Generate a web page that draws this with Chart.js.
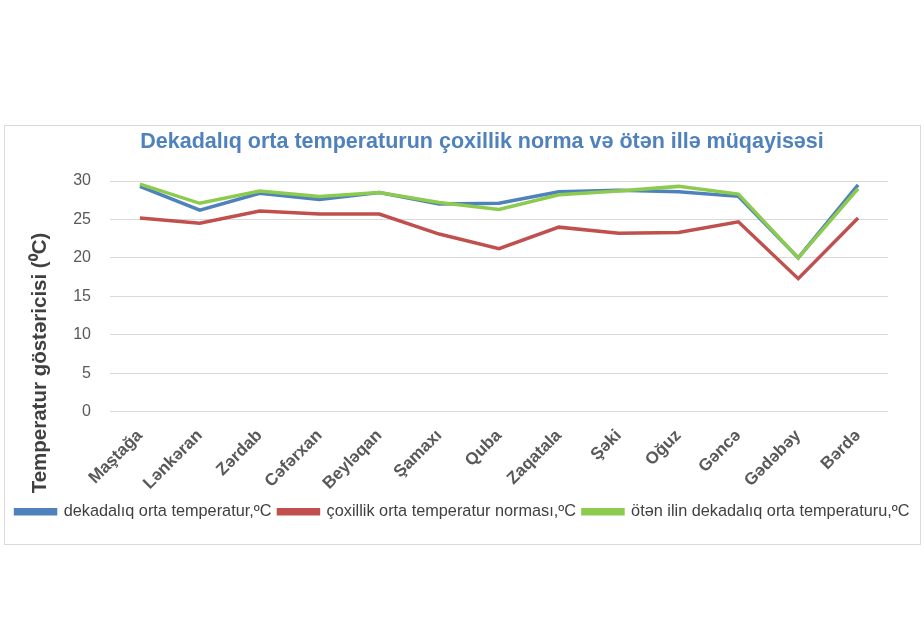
<!DOCTYPE html>
<html>
<head>
<meta charset="utf-8">
<script src="https://cdn.jsdelivr.net/npm/chart.js@4"></script>
<style>
  body { margin: 0; background: #fff; }
  #box {
    position: absolute; left: 4px; top: 125px;
    width: 917px; height: 420px;
    border: 1px solid #d9d9d9; box-sizing: border-box;
  }
</style>
</head>
<body>
<div id="box"><canvas id="chart"></canvas></div>
<script>
const stations = ['Maştağa', 'Lənkəran', 'Zərdab', 'Cəfərxan', 'Beyləqan', 'Şamaxı', 'Quba',
  'Zaqatala', 'Şəki', 'Oğuz', 'Gəncə', 'Gədəbəy', 'Bərdə'];
const decadeTemp = [29.3, 26.2, 28.4, 27.6, 28.5, 27.0, 27.1, 28.6, 28.8, 28.6, 28.0, 20.0, 29.5];
const normTemp = [25.2, 24.5, 26.1, 25.7, 25.7, 23.1, 21.2, 24.0, 23.2, 23.3, 24.7, 17.3, 25.2];
const lastYearTemp = [29.6, 27.1, 28.7, 28.0, 28.5, 27.2, 26.3, 28.2, 28.7, 29.3, 28.3, 20.0, 29.0];
const yTicks = [0, 5, 10, 15, 20, 25, 30];

const chartTitle = 'Dekadalıq orta temperaturun çoxillik norma və ötən illə müqayisəsi';
const yTitle = 'Temperatur göstəricisi (⁰C)';

const grey = '#595959';
const font = 'Liberation Sans, Arial';

// titles are drawn by hand so they can sit off-centre like in the original
const titlesPlugin = {
  id: 'titles',
  afterDraw(chart) {
    const c = chart.ctx;
    c.save();
    c.textAlign = 'center';
    c.textBaseline = 'middle';
    c.fillStyle = '#4F81BD';
    c.font = 'bold 21.5px ' + font;
    c.fillText(chartTitle, 477, 16);

    c.translate(35, 237);
    c.rotate(-Math.PI / 2);
    c.fillStyle = '#404040';
    c.font = 'bold 20.5px ' + font;
    c.fillText(yTitle, 0, 0);
    c.restore();
  }
};

const ctx = document.getElementById('chart').getContext('2d');
const chart = new Chart(ctx, {
  type: 'line',
  data: {
    labels: stations,
    datasets: [
      {
        label: 'dekadalıq orta temperatur,ºC',
        data: decadeTemp,
        borderColor: '#4F81BD',
        backgroundColor: '#4F81BD',
        borderWidth: 3.5,
        pointRadius: 0,
        order: 3
      },
      {
        label: 'çoxillik orta temperatur norması,ºC',
        data: normTemp,
        borderColor: '#C0504D',
        backgroundColor: '#C0504D',
        borderWidth: 3.5,
        pointRadius: 0,
        order: 2
      },
      {
        label: 'ötən ilin dekadalıq orta temperaturu,ºC',
        data: lastYearTemp,
        borderColor: '#8DCB4E',
        backgroundColor: '#8DCB4E',
        borderWidth: 3.5,
        pointRadius: 0,
        order: 1
      }
    ]
  },
  options: {
    responsive: true,
    maintainAspectRatio: false,
    animation: false,
    layout: { padding: { left: 0, right: 0, top: 55, bottom: 14 } },
    plugins: {
      title: { display: false },
      legend: {
        position: 'bottom',
        labels: {
          color: '#404040',
          boxWidth: 40,
          boxHeight: 4,
          padding: 7,
          font: { family: font, size: 16.3 },
          sort: (a, b) => a.datasetIndex - b.datasetIndex
        }
      },
      tooltip: { enabled: false }
    },
    scales: {
      x: {
        offset: true,
        grid: { display: false },
        border: { display: false },
        afterFit: scale => { scale.height = 85; },
        ticks: {
          color: grey,
          maxRotation: 45,
          minRotation: 45,
          padding: 6,
          font: { family: font, size: 17, weight: 'bold' }
        }
      },
      y: {
        min: 0,
        max: 30,
        afterFit: scale => { scale.width = 105; },
        afterBuildTicks: scale => { scale.ticks = yTicks.map(v => ({ value: v })); },
        border: { display: false },
        grid: { color: '#d9d9d9', drawTicks: false },
        ticks: {
          color: grey,
          padding: 19,
          font: { family: font, size: 16 }
        }
      },
      // empty axis that only reserves the right margin
      yRight: {
        position: 'right',
        display: true,
        afterFit: scale => { scale.width = 32; },
        grid: { display: false },
        border: { display: false },
        ticks: { display: false }
      }
    }
  },
  plugins: [titlesPlugin]
});
</script>
</body>
</html>
